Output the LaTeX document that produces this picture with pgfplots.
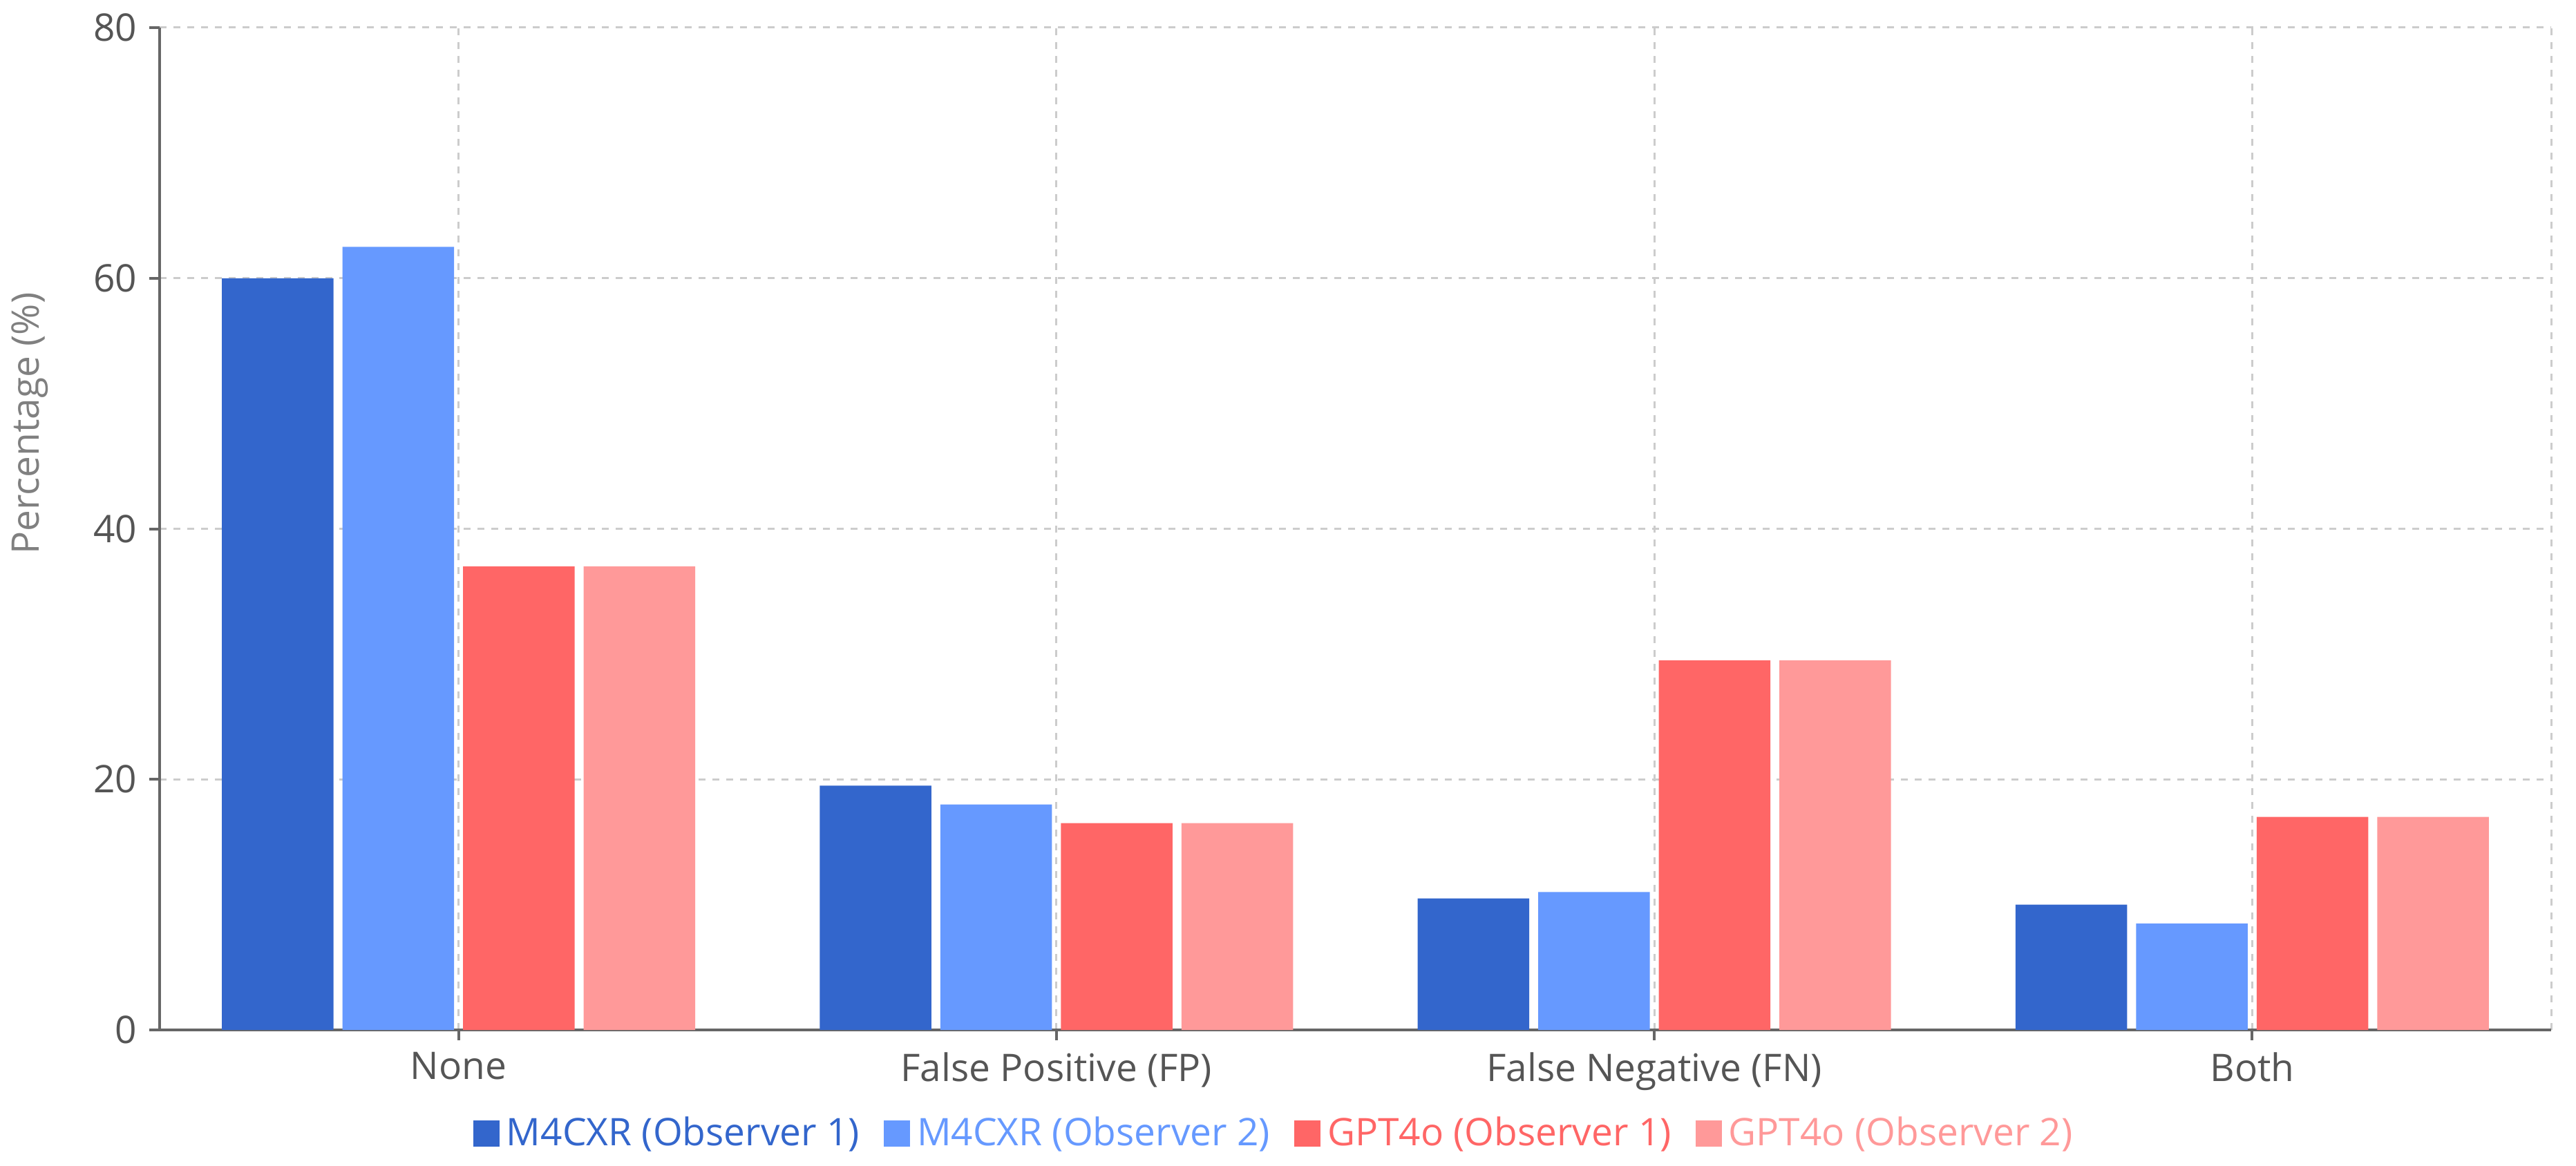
\documentclass[border=0pt]{standalone}
\usepackage{pgfplots}
\pgfplotsset{compat=1.18}
\usepackage{fontspec}
\setmainfont{Open Sans}

\definecolor{obsA}{HTML}{3366CC}
\definecolor{obsB}{HTML}{6699FF}
\definecolor{gptA}{HTML}{FF6666}
\definecolor{gptB}{HTML}{FF9999}
\definecolor{axisgray}{HTML}{666666}
\definecolor{gridgray}{HTML}{CCCCCC}
\definecolor{labelgray}{HTML}{555555}

\newcommand{\chartfont}{\fontsize{11}{13.2}\selectfont}

\begin{document}
\begin{tikzpicture}
\useasboundingbox (-46.2pt,-39.2pt) rectangle (699.4pt,298.2pt);
\begin{axis}[
    scale only axis,
    width=692.2pt, height=290.2pt,
    ybar=2.6pt, bar width=32.3pt,
    xmin=-0.5, xmax=3.5,
    ymin=0, ymax=80,
    xtick={0,1,2,3},
    xticklabels={None, False Positive (FP), False Negative (FN), Both},
    minor xtick={3.5},
    ytick={0,20,40,60,80},
    axis lines=left,
    x axis line style={-}, y axis line style={-},
    axis line style={draw=axisgray, line width=0.8pt},
    tick align=outside,
    major tick length=3pt, minor tick length=0pt,
    tick style={draw=axisgray, line width=0.8pt},
    xmajorgrids=true, xminorgrids=true, ymajorgrids=true,
    grid style={draw=gridgray, line width=0.6pt, dash pattern=on 2pt off 2pt},
    minor grid style={draw=gridgray, line width=0.6pt, dash pattern=on 2pt off 2pt},
    /pgf/number format/assume math mode=true,
    ticklabel style={font=\chartfont, text=labelgray},
    ylabel={Percentage (\%)},
    ylabel style={font=\chartfont, text=gray, at={(axis description cs:-0.0543,0.605)}, anchor=center},
    legend columns=4,
    legend style={draw=none, fill=none, font=\chartfont,
        at={(0.467,-0.1034)}, anchor=center,
        /tikz/every odd column/.append style={column sep=0pt},
        /tikz/every even column/.append style={column sep=5pt}},
    legend image code/.code={\fill[#1] (0pt,-3.8pt) rectangle (7.6pt,3.8pt);},
    clip=false,
]
\addplot[fill=obsA, draw=none] coordinates {(0,60) (1,19.5) (2,10.5) (3,10)};
\addlegendentry{\textcolor{obsA}{M4CXR (Observer 1)}}
\addplot[fill=obsB, draw=none] coordinates {(0,62.5) (1,18) (2,11) (3,8.5)};
\addlegendentry{\textcolor{obsB}{M4CXR (Observer 2)}}
\addplot[fill=gptA, draw=none] coordinates {(0,37) (1,16.5) (2,29.5) (3,17)};
\addlegendentry{\textcolor{gptA}{GPT4o (Observer 1)}}
\addplot[fill=gptB, draw=none] coordinates {(0,37) (1,16.5) (2,29.5) (3,17)};
\addlegendentry{\textcolor{gptB}{GPT4o (Observer 2)}}
\end{axis}
\end{tikzpicture}
\end{document}
